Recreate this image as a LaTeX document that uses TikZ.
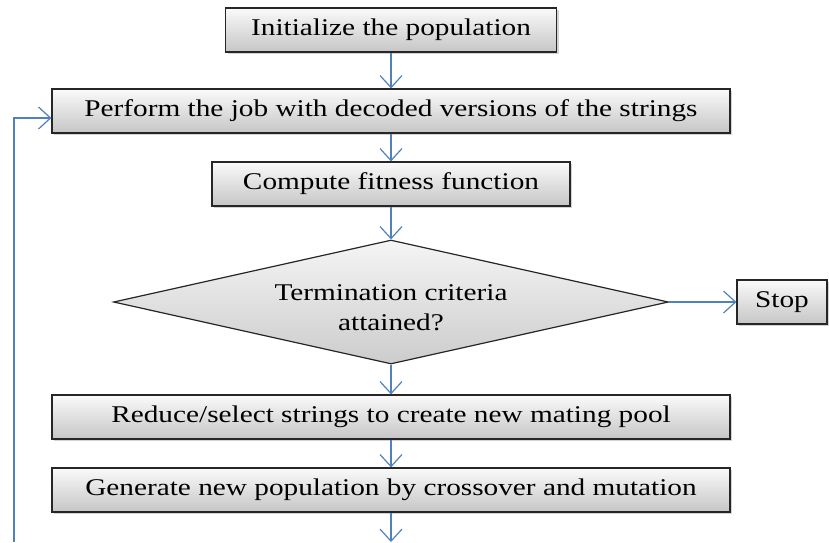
\documentclass[tikz,border=0pt]{standalone}
\usepackage{fontspec}
\setmainfont[FakeStretch=1.22]{Liberation Serif}
\usetikzlibrary{arrows.meta,shapes.geometric,shadows}
\definecolor{flowblue}{RGB}{79,129,189}

\begin{document}
\begin{tikzpicture}[x=0.5pt,y=-0.5pt,->,>={Straight Barb[length=6pt,width=11pt]},
draw=flowblue,line width=0.6pt,font=\fontsize{12}{15}\selectfont]
\tikzstyle{stepbox}=[rectangle,draw=black!85,top color=gray!4,bottom color=gray!45,
drop shadow={opacity=0.35,shadow xshift=1.2pt,shadow yshift=-1.2pt},
minimum height=22pt,inner sep=0pt]
\tikzstyle{test}=[diamond,draw=black!85,top color=gray!8,bottom color=gray!40,
aspect=4.48,minimum width=277.5pt,minimum height=62pt,inner sep=0pt]
\useasboundingbox (0,0) rectangle (829,542);
\node[stepbox,minimum width=165.5pt] (init) at (391,30) {Initialize the population};
\node[stepbox,minimum width=339pt] (perform) at (391,111) {Perform the job with decoded versions of the strings};
\node[stepbox,minimum width=179pt] (fitness) at (391,184) {Compute fitness function};
\node[test,label={[align=center,yshift=-3pt]center:{Termination criteria\\attained?}}] (term) at (391,302) {};
\node[stepbox,minimum width=45pt] (stop) at (782,302) {Stop};
\node[stepbox,minimum width=339pt] (reduce) at (391,417) {Reduce/select strings to create new mating pool};
\node[stepbox,minimum width=339pt] (generate) at (391,490) {Generate new population by crossover and mutation};
\coordinate (out) at (391,542);
\coordinate (back) at (14,542);
\path (init) edge (perform)
      (perform) edge (fitness)
      (fitness) edge (term)
      (term) edge (stop)
             edge (reduce)
      (reduce) edge (generate)
      (generate) edge (out);
\draw (back) |- ([yshift=-3.5pt]perform.west);
\end{tikzpicture}
\end{document}
